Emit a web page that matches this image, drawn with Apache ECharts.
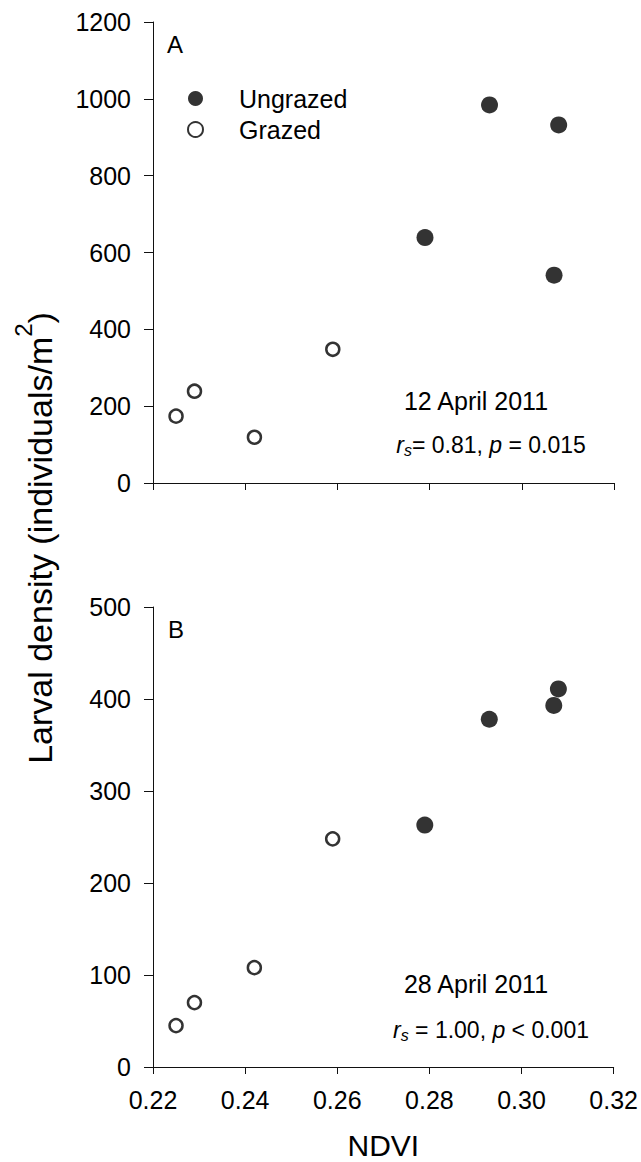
<!DOCTYPE html>
<html>
<head>
<meta charset="utf-8">
<script src="https://cdn.jsdelivr.net/npm/echarts@6/dist/echarts.min.js"></script>
<style>
html,body{margin:0;padding:0;background:#fff;}
#c{width:641px;height:1162px;}
</style>
</head>
<body>
<div id="c"></div>
<script>
// ---- data ----
const ndviGrazed = [0.225, 0.229, 0.242, 0.259];
const ndviUngrazed = [0.279, 0.293, 0.307, 0.308];
const densityAGrazed = [174, 239, 119, 348];
const densityAUngrazed = [639, 984, 541, 932];
const densityBGrazed = [45, 70, 108, 248];
const densityBUngrazed = [263, 378, 393, 411];
const xTicks = [0.22, 0.24, 0.26, 0.28, 0.30, 0.32];
const yTicksA = [0, 200, 400, 600, 800, 1000, 1200];
const yTicksB = [0, 100, 200, 300, 400, 500];
const seriesNames = ['Ungrazed', 'Grazed'];
const panelLabels = ['A', 'B'];
const dateLabels = ['12 April 2011', '28 April 2011'];
const statsA = {rs: '0.81', op: '=', p: '0.015', gap: ''};
const statsB = {rs: '1.00', op: '<', p: '0.001', gap: ' '};
const xTitle = 'NDVI';

const FONT = "'Liberation Sans', Arial, sans-serif";
const pairs = (xs, ys) => xs.map((x, i) => [x, ys[i]]);

const axisLineStyle = {color: '#111', width: 1};

function xAxis(gridIndex, showLabels) {
  return {
    type: 'value', gridIndex,
    min: xTicks[0], max: xTicks[xTicks.length - 1],
    interval: xTicks[1] - xTicks[0],
    axisLine: {show: true, lineStyle: axisLineStyle},
    axisTick: {show: true, length: 7, lineStyle: axisLineStyle},
    splitLine: {show: false},
    axisLabel: {
      show: showLabels, margin: 20, fontSize: 25, color: '#000', fontFamily: FONT,
      formatter: v => v.toFixed(2)
    },
    name: showLabels ? xTitle : '',
    nameLocation: 'middle', nameGap: 63,
    nameTextStyle: {fontSize: 30, color: '#000', fontFamily: FONT}
  };
}
function yAxis(gridIndex, ticks) {
  return {
    type: 'value', gridIndex,
    min: ticks[0], max: ticks[ticks.length - 1],
    interval: ticks[1] - ticks[0],
    axisLine: {show: true, lineStyle: axisLineStyle},
    axisTick: {show: true, length: 9, lineStyle: axisLineStyle},
    splitLine: {show: false},
    axisLabel: {margin: 22, fontSize: 25, color: '#000', fontFamily: FONT, formatter: v => String(v)}
  };
}
const filledStyle = {color: '#000', borderColor: '#000', borderWidth: 0};
const openStyle = {color: '#fff', borderColor: '#000', borderWidth: 2.5};

function scatter(name, idx, data, open) {
  return {
    name, type: 'scatter', xAxisIndex: idx, yAxisIndex: idx,
    data, symbol: 'circle', symbolSize: open ? 13 : 17,
    itemStyle: open ? openStyle : filledStyle,
    emphasis: {disabled: true}, z: open ? 3 : 4
  };
}

function statsText(s) {
  return '{i|r}{s|s}{n|' + s.gap + '= ' + s.rs + ', }{i|p}{n| ' + s.op + ' ' + s.p + '}';
}
const richStats = {
  i: {fontSize: 23, fontStyle: 'italic', fontFamily: FONT, fill: '#000', color: '#000', lineHeight: 26},
  n: {fontSize: 23, fontFamily: FONT, fill: '#000', color: '#000', lineHeight: 26},
  s: {fontSize: 16, fontStyle: 'italic', fontFamily: FONT, fill: '#000', color: '#000', lineHeight: 16, verticalAlign: 'bottom'}
};

function txt(x, y, text, size, align) {
  const a = align || 'center';
  return {
    type: 'text', x, y, silent: true,
    style: {text, font: size + 'px ' + FONT, fill: '#000',
      align: a, verticalAlign: 'middle', textAlign: a, textVerticalAlign: 'middle'}
  };
}

const option = {
  backgroundColor: '#fff',
  animation: false,
  grid: [
    {left: 153, top: 22, width: 461, height: 461},
    {left: 153, top: 607, width: 461, height: 460}
  ],
  xAxis: [xAxis(0, false), xAxis(1, true)],
  yAxis: [yAxis(0, yTicksA), yAxis(1, yTicksB)],
  legend: {
    orient: 'vertical', left: 187, top: 86, padding: 0,
    itemWidth: 15, itemHeight: 15, itemGap: 6,
    selectedMode: false,
    data: seriesNames,
    textStyle: {fontSize: 25, color: '#000', fontFamily: FONT, padding: [0, 0, 0, 31]}
  },
  series: [
    scatter(seriesNames[0], 0, pairs(ndviUngrazed, densityAUngrazed), false),
    scatter(seriesNames[1], 0, pairs(ndviGrazed, densityAGrazed), true),
    scatter(seriesNames[0], 1, pairs(ndviUngrazed, densityBUngrazed), false),
    scatter(seriesNames[1], 1, pairs(ndviGrazed, densityBGrazed), true)
  ],
  graphic: [
    txt(167, 44, panelLabels[0], 24, 'left'),
    txt(168, 629, panelLabels[1], 24, 'left'),
    txt(476, 401, dateLabels[0], 25),
    txt(476, 984, dateLabels[1], 25),
    {type: 'text', x: 491, y: 445, silent: true,
      style: {text: statsText(statsA), rich: richStats, align: 'center', verticalAlign: 'middle', textAlign: 'center', textVerticalAlign: 'middle'}},
    {type: 'text', x: 491, y: 1030, silent: true,
      style: {text: statsText(statsB), rich: richStats, align: 'center', verticalAlign: 'middle', textAlign: 'center', textVerticalAlign: 'middle'}},
    {type: 'text', x: 34, y: 538, rotation: Math.PI / 2, silent: true,
      style: {
        text: '{t|Larval density (individuals/m}{sup|2}{t|)}',
        align: 'center', verticalAlign: 'middle', textAlign: 'center', textVerticalAlign: 'middle',
        rich: {
          t: {fontSize: 34, fontFamily: FONT, fill: '#000', color: '#000', lineHeight: 46, verticalAlign: 'bottom'},
          sup: {fontSize: 24, fontFamily: FONT, fill: '#000', color: '#000', lineHeight: 24, verticalAlign: 'top'}
        }
      }}
  ]
};

const chart = echarts.init(document.getElementById('c'), null, {renderer: 'svg'});
chart.setOption(option);
</script>
</body>
</html>
